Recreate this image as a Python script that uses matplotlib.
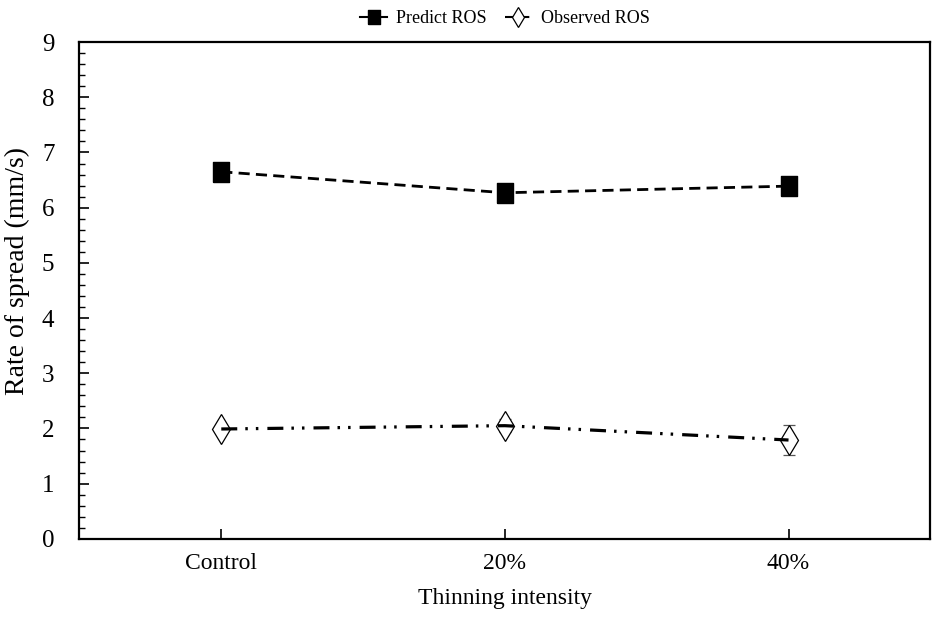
import matplotlib
matplotlib.use("Agg")
import matplotlib.pyplot as plt
from matplotlib.ticker import MultipleLocator

plt.rcParams['font.family'] = ['Liberation Serif', 'DejaVu Serif']
plt.rcParams['lines.scale_dashes'] = False

categories = ['Control', '20%', '40%']
predict_ros = [6.65, 6.27, 6.39]
observed_ros = [1.99, 2.05, 1.79]
observed_err = [0.05, 0.12, 0.28]

x = range(len(categories))
rect = [(-0.8, -1), (0.8, -1), (0.8, 1), (-0.8, 1), (-0.8, -1)]
obs_dash = (11.5, 5.8, 1.8, 5.8, 1.8, 6.5)

fig = plt.figure(figsize=(9.35, 6.28), dpi=100)
ax = fig.add_axes([0.085, 0.142, 0.910, 0.791])

# predicted
ax.plot(x, predict_ros, color='black', lw=2.0, dashes=(8, 4.5), zorder=3,
        marker=rect, markersize=15, markerfacecolor='black', markeredgecolor='black')
ax.plot([], [], color='black', lw=1.5, marker=rect, markersize=10,
        markerfacecolor='black', markeredgecolor='black', label='Predict ROS')

# observed: markers + error bars underneath, line on top
ax.errorbar(x, observed_ros, yerr=observed_err, fmt='none', ecolor='#555555',
            elinewidth=0.9, capsize=4, capthick=0.9, zorder=2)
ax.plot(x, observed_ros, ls='none', marker='d', markersize=15,
        markerfacecolor='white', markeredgecolor='black', markeredgewidth=0.9, zorder=2)
ax.plot(x, observed_ros, color='black', lw=2.3, dashes=obs_dash, zorder=3)
ax.plot([], [], color='black', lw=1.5, dashes=(6, 2, 1.5, 2),
        marker='d', markersize=10, markerfacecolor='white', markeredgecolor='black',
        markeredgewidth=0.9, label='Observed ROS')

ax.set_xlim(-0.5, 2.5)
ax.set_ylim(0, 9)
ax.set_xticks(list(x))
ax.set_xticklabels(categories)
ax.yaxis.set_major_locator(MultipleLocator(1))
ax.yaxis.set_minor_locator(MultipleLocator(0.2))
ax.tick_params(axis='both', which='major', direction='in',
               length=7, width=1.2, top=False, right=False)
ax.tick_params(axis='x', which='major', labelsize=17, length=7, pad=10)
ax.tick_params(axis='y', which='major', labelsize=18, pad=18)
ax.tick_params(axis='y', which='minor', direction='in', length=4, width=1.0, right=False)
for s in ax.spines.values():
    s.set_linewidth(1.6)

ax.set_xlabel('Thinning intensity', fontsize=17, labelpad=10)
ax.set_ylabel('Rate of spread (mm/s)', fontsize=20)
ax.yaxis.set_label_coords(-0.058, 0.54)

ax.legend(loc='lower center', bbox_to_anchor=(0.5, 1.005), ncol=2, frameon=False,
          fontsize=13, handlelength=1.5, columnspacing=1.0, handletextpad=0.5,
          borderaxespad=0.3)

fig.savefig('out.png', dpi=100)
